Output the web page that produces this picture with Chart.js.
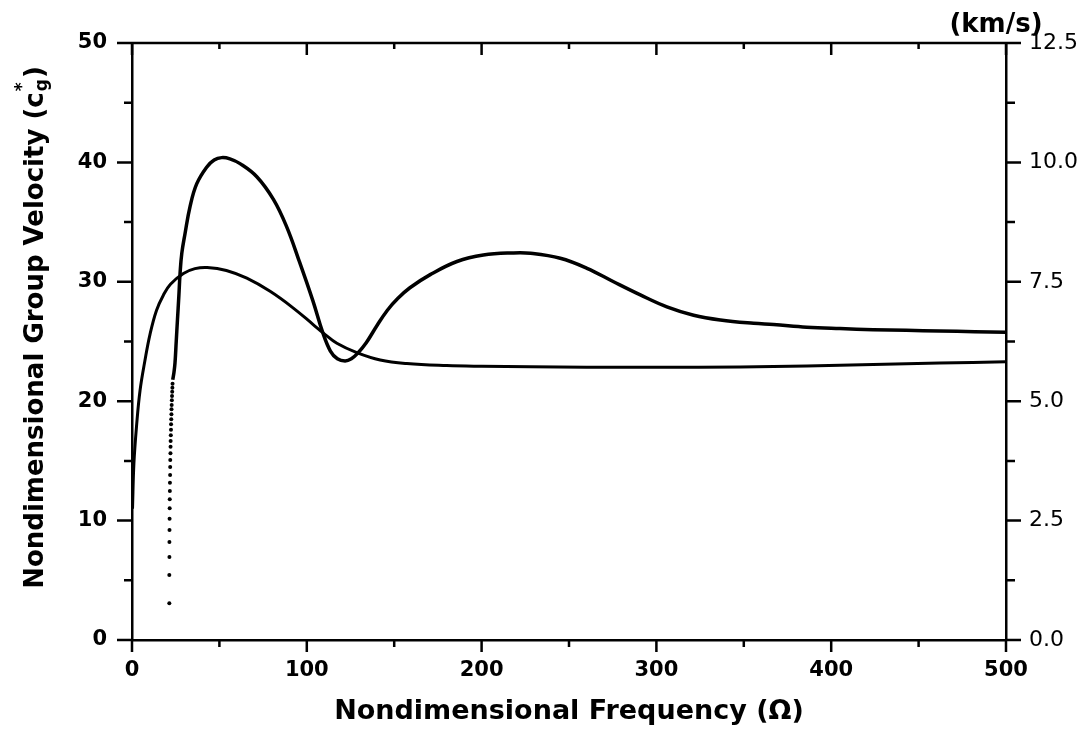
<!DOCTYPE html>
<html>
<head>
<meta charset="utf-8">
<script src="https://cdn.jsdelivr.net/npm/chart.js@4.4.0/dist/chart.umd.min.js"></script>
<style>
  html, body { margin: 0; padding: 0; background: #fff; }
</style>
</head>
<body>
<canvas id="chart" width="1088" height="732"></canvas>
<script>
// first mode: smooth hump near Omega = 45, then flat around 23
const freqA = [0.3, 1.1, 2.7, 4.6, 7.4, 10.3, 14, 18, 22, 29.4, 36, 43, 54, 65.7, 79, 92.3,
  103.8, 109.5, 117.2, 128.6, 142, 157.2, 180, 200, 228, 260, 300, 348, 386, 424, 462, 500];
const velA = [11.0, 14.8, 18.1, 20.9, 23.4, 25.6, 27.6, 28.9, 29.8, 30.7, 31.1, 31.2, 30.95, 30.3, 29.2, 27.8,
  26.4, 25.7, 24.85, 24.07, 23.45, 23.15, 22.98, 22.92, 22.88, 22.85, 22.84, 22.86, 22.95, 23.08, 23.2, 23.3];

// second mode above its cut-off frequency
const freqB = [23.3, 24.0, 24.6, 25.3, 26.0, 26.8, 27.5, 28.5, 30.3, 33.2, 37.0, 42.7, 47, 51.3, 56, 61.8,
  71.4, 80.9, 88.5, 95.5, 103.5, 109, 113.5, 117.5, 121.9, 125.5, 129, 134, 140, 146, 152, 159, 170.6, 185.9,
  201, 218, 228, 245, 260.3, 275.5, 290.8, 306, 321.3, 336.6, 355.6, 367, 386, 405, 424, 443, 462, 482, 500];
const velB = [21.8, 22.4, 23.2, 25.0, 26.8, 28.8, 30.7, 32.4, 34.0, 36.3, 38.2, 39.6, 40.2, 40.4, 40.3, 39.9,
  38.8, 36.9, 34.6, 31.8, 28.4, 25.8, 24.2, 23.55, 23.37, 23.55, 24.0, 24.9, 26.3, 27.6, 28.6, 29.5, 30.6, 31.7,
  32.24, 32.42, 32.39, 31.97, 31.13, 30.0, 28.9, 27.9, 27.2, 26.8, 26.52, 26.42, 26.2, 26.08, 25.99, 25.94, 25.88, 25.82, 25.77];

// sampled points of the second mode right at cut-off
const freqCut = [21.35, 21.35, 21.4, 21.4, 21.45, 21.5, 21.55, 21.6, 21.65, 21.7, 21.8, 21.85, 21.9, 22.0, 22.05,
  22.1, 22.2, 22.3, 22.35, 22.45, 22.55, 22.6, 22.7, 22.8, 22.9, 23.0, 23.1, 23.2];
const velCut = [3.07, 5.44, 6.95, 8.21, 9.21, 10.16, 11.03, 11.78, 12.48, 13.17, 13.82, 14.49, 15.08, 15.64, 16.19,
  16.67, 17.14, 17.61, 18.07, 18.48, 18.90, 19.32, 19.68, 20.08, 20.44, 20.80, 21.13, 21.47];

const xLabels = [0, 100, 200, 300, 400, 500];
const leftLabels = [0, 10, 20, 30, 40, 50];
const rightLabels = ['0.0', '2.5', '5.0', '7.5', '10.0', '12.5'];

const FONT = "'DejaVu Sans', sans-serif";
Chart.defaults.font.family = FONT;
Chart.defaults.color = '#000';

const toPoints = (xs, ys) => xs.map((v, i) => ({ x: v, y: ys[i] }));
const near = (v, list) => list.some(l => Math.abs(l - v) < 1e-6);

// frame top line, minor/major tick marks, rotated y title and unit label
const axisDecor = {
  id: 'axisDecor',
  afterDraw(chart) {
    const { ctx, chartArea: a, scales: { x, y, y2 } } = chart;
    ctx.save();
    ctx.strokeStyle = '#000';
    ctx.lineWidth = 2.5;
    ctx.beginPath();
    ctx.moveTo(a.left - 1, a.top);
    ctx.lineTo(a.right + 1, a.top);
    x.ticks.forEach(t => {
      const px = x.getPixelForValue(t.value);
      const major = near(t.value, xLabels);
      ctx.moveTo(px, a.bottom);
      ctx.lineTo(px, a.bottom + (major ? 12 : 7));
      ctx.moveTo(px, a.top);
      ctx.lineTo(px, a.top + (major ? 12 : 6));
    });
    y.ticks.forEach(t => {
      const py = y.getPixelForValue(t.value);
      const major = near(t.value, leftLabels);
      ctx.moveTo(a.left, py);
      ctx.lineTo(a.left - (major ? 15 : 8), py);
    });
    y2.ticks.forEach(t => {
      const py = y2.getPixelForValue(t.value);
      const major = near(t.value, rightLabels.map(Number));
      ctx.moveTo(a.right, py);
      ctx.lineTo(a.right + (major ? 15 : 9), py);
    });
    ctx.stroke();

    // y axis title with c*_g
    const big = 'bold 26px ' + FONT;
    const small = 'bold 17px ' + FONT;
    const main = 'Nondimensional Group Velocity (c';
    ctx.font = big;
    const wMain = ctx.measureText(main).width;
    const wClose = ctx.measureText(')').width;
    ctx.font = small;
    const wScript = Math.max(ctx.measureText('*').width, ctx.measureText('g').width) + 2;
    const total = wMain + wScript + wClose;
    ctx.fillStyle = '#000';
    ctx.translate(34, (a.top + a.bottom) / 2 - 14);
    ctx.rotate(-Math.PI / 2);
    ctx.textBaseline = 'alphabetic';
    ctx.textAlign = 'left';
    let cx = -total / 2;
    const base = 9;
    ctx.font = big;
    ctx.fillText(main, cx, base);
    cx += wMain;
    ctx.font = small;
    ctx.fillText('*', cx + 1, base - 16);
    ctx.fillText('g', cx + 1, base + 4);
    cx += wScript;
    ctx.font = big;
    ctx.fillText(')', cx, base);
    ctx.restore();

    ctx.save();
    ctx.font = 'bold 26px ' + FONT;
    ctx.fillStyle = '#000';
    ctx.textAlign = 'center';
    ctx.textBaseline = 'middle';
    ctx.fillText('(km/s)', a.right - 10, 25);
    ctx.restore();
  }
};

new Chart(document.getElementById('chart'), {
  type: 'scatter',
  data: {
    datasets: [
      {
        data: toPoints(freqA, velA),
        showLine: true,
        borderColor: '#000',
        borderWidth: 3,
        pointRadius: 0,
        tension: 0.4,
        yAxisID: 'y'
      },
      {
        data: toPoints(freqB, velB),
        showLine: true,
        borderColor: '#000',
        borderWidth: 3.5,
        pointRadius: 0,
        tension: 0.4,
        yAxisID: 'y'
      },
      {
        data: toPoints(freqCut, velCut),
        showLine: false,
        pointRadius: 2,
        pointBorderWidth: 0,
        pointBackgroundColor: '#000',
        yAxisID: 'y'
      }
    ]
  },
  options: {
    responsive: false,
    animation: false,
    layout: { padding: { top: 43, left: 0, right: 0, bottom: 0 } },
    plugins: { legend: { display: false }, tooltip: { enabled: false } },
    scales: {
      x: {
        type: 'linear',
        position: 'bottom',
        min: 0,
        max: 500,
        afterFit: s => { s.height = 92; },
        grid: { display: false, drawTicks: false },
        border: { display: true, color: '#000', width: 2.5 },
        ticks: {
          stepSize: 50,
          autoSkip: false,
          maxRotation: 0,
          padding: 18,
          font: { size: 21, weight: 'bold' },
          callback: v => (near(v, xLabels) ? v : '')
        },
        title: {
          display: true,
          text: 'Nondimensional Frequency (Ω)',
          font: { size: 27, weight: 'bold' },
          padding: { top: 0, bottom: 4 }
        }
      },
      y: {
        type: 'linear',
        position: 'left',
        min: 0,
        max: 50,
        afterFit: s => { s.width = 132; },
        grid: { display: false, drawTicks: false },
        border: { display: true, color: '#000', width: 2.5 },
        ticks: {
          stepSize: 5,
          autoSkip: false,
          padding: 25,
          font: { size: 21, weight: 'bold' },
          callback: v => (near(v, leftLabels) ? v : '')
        }
      },
      y2: {
        type: 'linear',
        position: 'right',
        min: 0,
        max: 12.5,
        afterFit: s => { s.width = 82; },
        grid: { display: false, drawTicks: false },
        border: { display: true, color: '#000', width: 2.5 },
        ticks: {
          stepSize: 1.25,
          autoSkip: false,
          padding: 23,
          font: { size: 22 },
          callback: v => {
            const i = rightLabels.map(Number).findIndex(l => Math.abs(l - v) < 1e-6);
            return i >= 0 ? rightLabels[i] : '';
          }
        }
      }
    }
  },
  plugins: [axisDecor]
});
</script>
</body>
</html>
